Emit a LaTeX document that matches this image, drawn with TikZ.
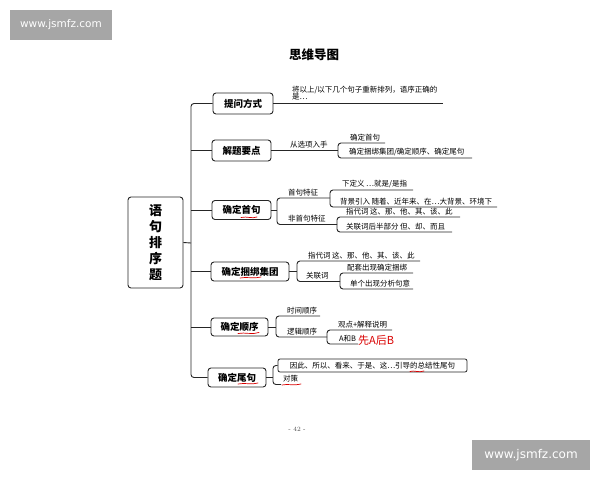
\documentclass[tikz,border=0pt]{standalone}
\usepackage{fontspec}
\newfontfamily\cjk{Noto Sans CJK SC}
\newfontfamily\wmfont{DejaVu Sans}
\tikzset{
  topic/.style={draw=black!85,line width=0.9pt,rounded corners=3pt,inner sep=0pt,
    font=\cjk\bfseries\fontsize{9.5}{10}\selectfont},
  leaf/.style={anchor=south west,inner sep=0.8pt,font=\cjk\fontsize{7.5}{8}\selectfont},
  link/.style={black!85,line width=0.9pt,rounded corners=3pt},
  redline/.style={red!85!black,line width=0.7pt,line cap=round},
  wmbox/.style={fill=black!35,text=white,inner sep=0pt,font=\wmfont}
}
\begin{document}
\begin{tikzpicture}[x=1pt,y=-1pt]
        \useasboundingbox (0,0) rectangle (600,480);
        %WATERMARKS
        \node[wmbox,minimum width=102,minimum height=30,font=\wmfont\fontsize{10.5}{11}\selectfont] (wmtop) at (61,25) {www.jsmfz.com};
        \node[wmbox,minimum width=118,minimum height=30,font=\wmfont\fontsize{12}{12}\selectfont] (wmbot) at (531,455) {www.jsmfz.com};
        %TITLE
        \node[font=\cjk\bfseries\fontsize{12.5}{13}\selectfont] (title) at (314,55) {思维导图};
        \node[font=\fontsize{6.5}{7}\selectfont,text=black!70] (page) at (297,429) {- 42 -};

        %MAIN BOX
        \node[topic,minimum width=55,minimum height=91,align=center,
              font=\cjk\bfseries\fontsize{13}{16}\selectfont] (zhuti) at (155.5,242.5) {语\\句\\排\\序\\题};
        \coordinate (trunkM) at (191,243);

        %BRANCH BOXES
        \node[topic,minimum width=60,minimum height=21] (tiwen) at (243,103.5) {提问方式};
        \node[topic,minimum width=59,minimum height=21] (jieti) at (241.5,150.5) {解题要点};
        \node[topic,minimum width=59,minimum height=19] (shouju) at (241.5,210) {确定首句};
        \node[topic,minimum width=78,minimum height=19] (kunbang) at (250,271.5) {确定捆绑集团};
        \node[topic,minimum width=57,minimum height=18] (shunxu) at (239.5,327) {确定顺序};
        \node[topic,minimum width=58,minimum height=19] (weiju) at (237,377.5) {确定尾句};

        %TRUNK
        \draw[link] (zhuti.east) -- (trunkM);
        \draw[link] (tiwen.west) -| (trunkM) |- (weiju.west);
        \foreach \b in {jieti,shouju,kunbang,shunxu}
          \draw[link] (\b.west) -- (\b.west -| trunkM);

        %TIWEN
        \coordinate (tiwenE) at (443,103.5);
        \node[leaf,align=left,font=\cjk\fontsize{7.5}{7.5}\selectfont] (tw1) at (291,101.5) {将以上/以下几个句子重新排列，语序正确的\\是…};
        \draw[link] (tiwen.east) -- (tiwenE);

        %JIETI
        \coordinate (jtB) at (338,150.5);
        \coordinate (jtU) at (385,143);
        \coordinate (jtL) at (472,158);
        \node[leaf] (jt0) at (289,149) {从选项入手};
        \node[leaf] (jt1) at (349,142) {确定首句};
        \node[leaf] (jt2) at (348,157) {确定捆绑集团/确定顺序、确定尾句};
        \draw[link] (jieti.east) -- (jtB);
        \draw[link] (jtU) -- (jtU -| jtB) -- (jtL -| jtB) -- (jtL);

        %SHOUJU
        \coordinate (sjB) at (277,210);
        \coordinate (sjU) at (330,198);
        \coordinate (sjL) at (337,224.5);
        \node[leaf] (sj0) at (287,197) {首句特征};
        \node[leaf] (sj1) at (287,223.5) {非首句特征};
        \draw[link] (shouju.east) -- (sjB);
        \draw[link] (sjU) -- (sjU -| sjB) -- (sjL -| sjB) -- (sjL);
        % first sentence
        \coordinate (sjUa) at (413,190);
        \coordinate (sjUb) at (497,207);
        \node[leaf] (sj2) at (341,189) {下定义 …就是/是指};
        \node[leaf] (sj3) at (339,206) {背景引入 随着、近年来、在…大背景、环境下};
        \draw[link] (sjUa) -- (sjUa -| sjU) -- (sjUb -| sjU) -- (sjUb);
        % not first sentence
        \coordinate (sjLa) at (460,217);
        \coordinate (sjLb) at (452,232);
        \node[leaf] (sj4) at (345,216) {指代词 这、那、他、其、该、此};
        \node[leaf] (sj5) at (345,231) {关联词后半部分 但、却、而且};
        \draw[link] (sjLa) -- (sjLa -| sjL) -- (sjLb -| sjL) -- (sjLb);

        %KUNBANG
        \coordinate (kbB) at (297,271.5);
        \coordinate (kbU) at (420,261);
        \coordinate (kbL) at (340,281.5);
        \node[leaf] (kb0) at (307,260) {指代词 这、那、他、其、该、此};
        \node[leaf] (kb1) at (305,280.5) {关联词};
        \draw[link] (kunbang.east) -- (kbB);
        \draw[link] (kbU) -- (kbU -| kbB) -- (kbL -| kbB) -- (kbL);
        \coordinate (kbLa) at (413,273);
        \coordinate (kbLb) at (413,289);
        \node[leaf] (kb2) at (346,272) {配套出现确定捆绑};
        \node[leaf] (kb3) at (349,288) {单个出现分析句意};
        \draw[link] (kbLa) -- (kbLa -| kbL) -- (kbLb -| kbL) -- (kbLb);

        %SHUNXU
        \coordinate (sxB) at (276,327);
        \coordinate (sxU) at (320,316);
        \coordinate (sxL) at (327,337);
        \node[leaf] (sx0) at (286,315) {时间顺序};
        \node[leaf] (sx1) at (286,336) {逻辑顺序};
        \draw[link] (shunxu.east) -- (sxB);
        \draw[link] (sxU) -- (sxU -| sxB) -- (sxL -| sxB) -- (sxL);
        \coordinate (sxLa) at (392,330);
        \coordinate (sxLb) at (358,344);
        \node[leaf] (sx2) at (337,329) {观点+解释说明};
        \node[leaf] (sx3) at (338,343) {A和B};
        \draw[link] (sxLa) -- (sxLa -| sxL) -- (sxLb -| sxL) -- (sxLb);
        \node[anchor=south west,inner sep=0pt,text=red!85!black,font=\cjk\fontsize{11}{11}\selectfont] (hand) at (358,345.5) {先A后B};

        %WEIJU
        \coordinate (wjB) at (273,377.5);
        \coordinate (wjL) at (281,384.5);
        \node[draw=black!85,line width=0.8pt,rounded corners=2pt,minimum width=189,minimum height=13,
              inner sep=0pt,font=\cjk\fontsize{7.5}{8}\selectfont] (zongjie) at (372.5,365.5) {因此、所以、看来、于是、这…引导的总结性尾句};
        \node[leaf] (wj1) at (282,383) {对策};
        \draw[link] (weiju.east) -- (wjB);
        \draw[link] (zongjie.west) -- (zongjie.west -| wjB) -- (wjL -| wjB) -- (wjL);

        %RED MARKS
        \draw[redline] (241,217.5) .. controls (247,216) and (252,219) .. (257,217);
        \draw[redline] (240,278) .. controls (247,276.5) and (254,279) .. (261,277);
        \draw[redline] (238,333.5) .. controls (245,332) and (252,335) .. (259,332.5);
        \draw[redline] (238,384) .. controls (245,382.5) and (252,385) .. (258,383);
        \draw[redline] (410,371.5) .. controls (414,370) and (419,373) .. (424,371);
        \draw[redline] (282,385) .. controls (288,383.5) and (294,386) .. (301,384);
\end{tikzpicture}
\end{document}
